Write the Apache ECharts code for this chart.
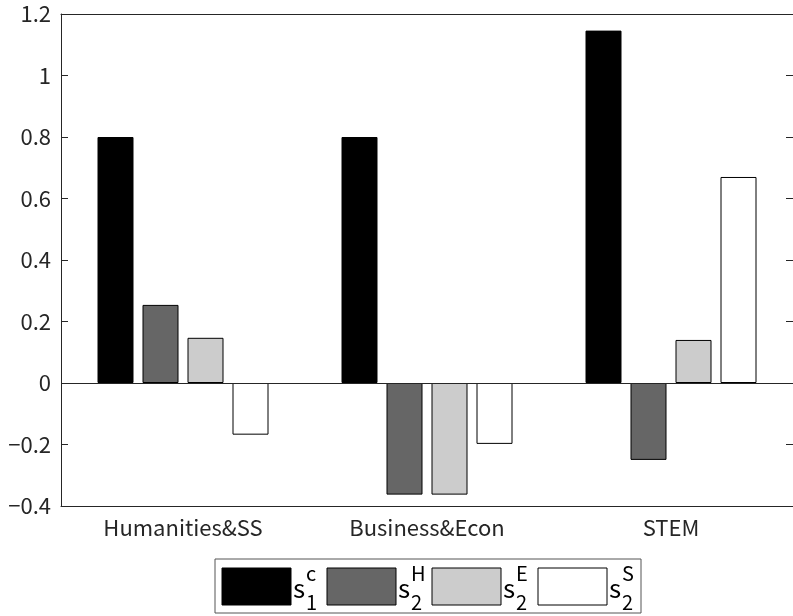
<!DOCTYPE html>
<html>
<head>
<meta charset="utf-8">
<script src="https://cdn.jsdelivr.net/npm/echarts@6/dist/echarts.min.js"></script>
<style>html,body{margin:0;padding:0;background:#fff}#c{width:793px;height:616px}</style>
</head>
<body>
<div id="c"></div>
<script>
var categories = ['Humanities&SS', 'Business&Econ', 'STEM'];
var s1c = [0.80, 0.80, 1.146];
var s2H = [0.254, -0.363, -0.250];
var s2E = [0.147, -0.363, 0.140];
var s2S = [-0.168, -0.198, 0.670];
var yTicks = [-0.4, -0.2, 0, 0.2, 0.4, 0.6, 0.8, 1, 1.2];
var legendBase = ['s', 's', 's', 's'];
var legendSup = ['c', 'H', 'E', 'S'];
var legendSub = ['1', '2', '2', '2'];

var FONT = 'Noto Sans CJK JP';
var AX = '#262626';
var colors = ['#000000', '#666666', '#cccccc', '#ffffff'];
var seriesData = [s1c, s2H, s2E, s2S];
var names = ['s1c', 's2H', 's2E', 's2S'];

var chart = echarts.init(document.getElementById('c'), null, {renderer: 'canvas'});

var series = seriesData.map(function (d, i) {
  var s = {
    type: 'bar', name: names[i], data: d,
    barWidth: 36, barGap: '25%',
    itemStyle: {color: colors[i], borderColor: '#000', borderWidth: 1},
    emphasis: {disabled: true},
    animation: false
  };
  if (i === 0) {
    s.markLine = {
      silent: true, symbol: 'none', label: {show: false},
      lineStyle: {color: AX, width: 1, type: 'solid'},
      data: [{yAxis: 0}], animation: false
    };
  }
  return s;
});

var graphics = [];
var lx = 215, ly = 559, lw = 426, lh = 54;
graphics.push({type: 'rect', shape: {x: lx, y: ly, width: lw, height: lh},
  style: {fill: '#fff', stroke: '#555', lineWidth: 1}});
var swX = [222, 327, 432, 538];
for (var i = 0; i < 4; i++) {
  graphics.push({type: 'rect', shape: {x: swX[i], y: 568, width: 69, height: 37},
    style: {fill: colors[i], stroke: '#000', lineWidth: 1}});
  graphics.push({type: 'text', x: swX[i] + 71, y: 601,
    style: {text: legendBase[i], font: '26px "' + FONT + '"', fill: '#000', textVerticalAlign: 'bottom'}});
  graphics.push({type: 'text', x: swX[i] + 84, y: 563,
    style: {text: legendSup[i], font: '20px "' + FONT + '"', fill: '#000', textVerticalAlign: 'top'}});
  graphics.push({type: 'text', x: swX[i] + 84, y: 612,
    style: {text: legendSub[i], font: '20px "' + FONT + '"', fill: '#000', textVerticalAlign: 'bottom'}});
}

chart.setOption({
  animation: false,
  backgroundColor: '#fff',
  grid: {left: 61, right: -5, top: 14, bottom: 110, containLabel: false},
  xAxis: [{
    type: 'category', data: categories, position: 'bottom',
    axisLine: {onZero: false, lineStyle: {color: AX, width: 1}},
    axisTick: {inside: true, length: 7, alignWithLabel: true, lineStyle: {color: AX}},
    axisLabel: {color: AX, fontFamily: FONT, fontSize: 22, margin: 11},
    splitLine: {show: false}
  }, {
    type: 'category', data: categories, position: 'top',
    axisLine: {onZero: false, lineStyle: {color: AX, width: 1}},
    axisTick: {inside: true, length: 7, alignWithLabel: true, lineStyle: {color: AX}},
    axisLabel: {show: false}, splitLine: {show: false}
  }],
  yAxis: [{
    type: 'value', min: -0.4, max: 1.2, interval: 0.2, position: 'left',
    axisLine: {show: true, lineStyle: {color: AX, width: 1}},
    axisTick: {show: true, inside: true, length: 7, lineStyle: {color: AX}},
    axisLabel: {color: AX, fontFamily: FONT, fontSize: 22, margin: 10,
      formatter: function (v) {
        var r = Math.round(v * 10) / 10;
        return String(r).replace('-', '\u2212');
      }},
    splitLine: {show: false}
  }, {
    type: 'value', min: -0.4, max: 1.2, interval: 0.2, position: 'right',
    axisLine: {show: true, lineStyle: {color: AX, width: 1}},
    axisTick: {show: true, inside: true, length: 7, lineStyle: {color: AX}},
    axisLabel: {show: false}, splitLine: {show: false}
  }],
  series: series,
  graphic: graphics
});
</script>
</body>
</html>
